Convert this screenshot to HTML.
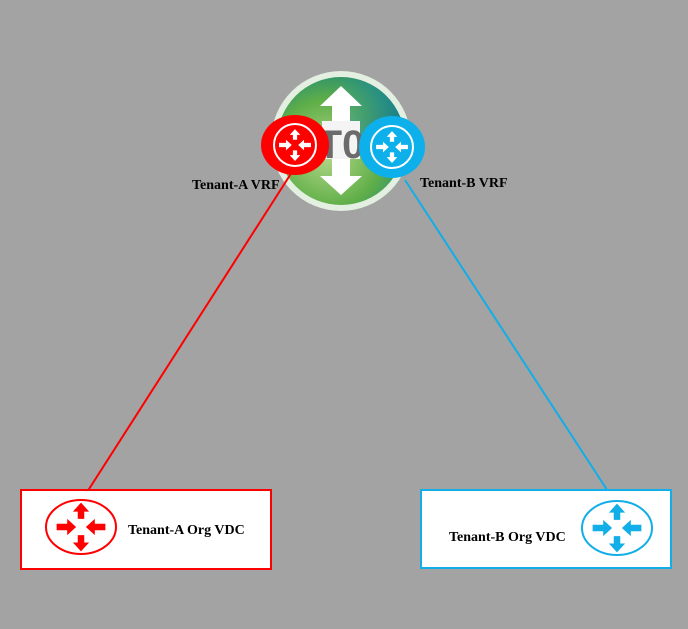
<!DOCTYPE html>
<html><head><meta charset="utf-8"><style>html,body{margin:0;padding:0;background:#a3a3a3;}svg{display:block}</style></head>
<body>
<svg width="688" height="629" viewBox="0 0 688 629" xmlns="http://www.w3.org/2000/svg">
<defs>
<symbol id="arr" viewBox="-32 -32 64 64" overflow="visible">
<polygon points="-4,-10 -4,-19 -10,-19 0,-30 10,-19 4,-19 4,-10"/>
<polygon points="-4,10 -4,19 -10,19 0,30 10,19 4,19 4,10"/>
<polygon points="-30,-4 -17,-4 -17,-10 -6,0 -17,10 -17,4 -30,4"/>
<polygon points="30,-4 17,-4 17,-10 6,0 17,10 17,4 30,4"/>
</symbol>
<radialGradient id="g" cx="0.4" cy="0.6" r="0.7">
<stop offset="0" stop-color="#b6d88a"/><stop offset="0.6" stop-color="#5fae48"/><stop offset="1" stop-color="#1f8a78"/>
</radialGradient>
<linearGradient id="tr" x1="0" y1="0" x2="1" y2="1"><stop offset="0" stop-color="#1d9cc9" stop-opacity="0"/><stop offset="1" stop-color="#0a6a8a"/></linearGradient>
</defs>
<rect width="688" height="629" fill="#a3a3a3"/>
<circle cx="341" cy="141" r="70" fill="#e3efe0"/>
<circle cx="341" cy="141" r="64" fill="url(#g)"/>
<path d="M341,77 A64,64 0 0 1 405,141 L341,141 Z" fill="url(#tr)" opacity="0.8"/>
<polygon points="341,86 362,106 350,106 350,176 362,176 341,195 320,176 332,176 332,106 320,106" fill="#fff"/>
<rect x="322" y="121" width="38" height="38" fill="#f4f4f4"/>
<text x="341" y="158" font-family="Liberation Sans, sans-serif" font-weight="bold" font-size="40" fill="#6b6b6b" text-anchor="middle">T0</text>
<line x1="292" y1="172" x2="82" y2="500" stroke="#f00" stroke-width="2"/>
<line x1="405" y1="180" x2="615" y2="502" stroke="#11aee8" stroke-width="2"/>
<ellipse cx="295" cy="145" rx="34" ry="30" fill="#f00"/>
<circle cx="295" cy="145" r="21" fill="none" stroke="#fff" stroke-width="2"/>
<use href="#arr" x="278" y="128" width="34" height="34" fill="#fff"/>
<ellipse cx="392" cy="147" rx="33" ry="31" fill="#0db0ea"/>
<circle cx="392" cy="147" r="21" fill="none" stroke="#fff" stroke-width="2"/>
<use href="#arr" x="375" y="130" width="34" height="34" fill="#fff"/>
<text x="192" y="189" font-family="Liberation Serif, serif" font-weight="bold" font-size="14">Tenant-A VRF</text>
<text x="420" y="187" font-family="Liberation Serif, serif" font-weight="bold" font-size="14">Tenant-B VRF</text>
<rect x="21" y="490" width="250" height="79" fill="#fff" stroke="#f00" stroke-width="2"/>
<ellipse cx="81" cy="527" rx="35" ry="27" fill="#fff" stroke="#f00" stroke-width="2"/>
<use href="#arr" x="55" y="501" width="52" height="52" fill="#f00"/>
<text x="128" y="534" font-family="Liberation Serif, serif" font-weight="bold" font-size="14">Tenant-A Org VDC</text>
<rect x="421" y="490" width="250" height="78" fill="#fff" stroke="#11aee8" stroke-width="2"/>
<ellipse cx="617" cy="528" rx="35" ry="27" fill="#fff" stroke="#11aee8" stroke-width="2"/>
<use href="#arr" x="591" y="502" width="52" height="52" fill="#11aee8"/>
<text x="449" y="541" font-family="Liberation Serif, serif" font-weight="bold" font-size="14">Tenant-B Org VDC</text>
</svg>
</body></html>
